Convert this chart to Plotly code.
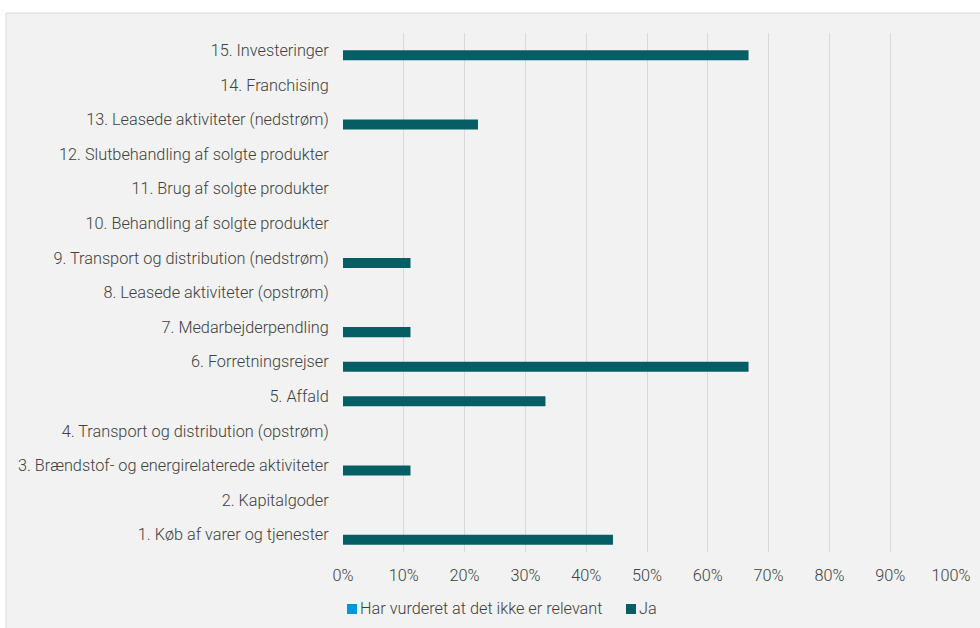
import plotly.graph_objects as go

# Scope 3 categories, listed bottom-to-top
categories = [
    "1. Køb af varer og tjenester",
    "2. Kapitalgoder",
    "3. Brændstof- og energirelaterede aktiviteter",
    "4. Transport og distribution (opstrøm)",
    "5. Affald",
    "6. Forretningsrejser",
    "7. Medarbejderpendling",
    "8. Leasede aktiviteter (opstrøm)",
    "9. Transport og distribution (nedstrøm)",
    "10. Behandling af solgte produkter",
    "11. Brug af solgte produkter",
    "12. Slutbehandling af solgte produkter",
    "13. Leasede aktiviteter (nedstrøm)",
    "14. Franchising",
    "15. Investeringer",
]

# Share of respondents per answer
ja = [0.444, 0.0, 0.111, 0.0, 0.333, 0.667, 0.111, 0.0, 0.111, 0.0, 0.0, 0.0, 0.222, 0.0, 0.667]
ikke_relevant = [0.0] * 15

series_names = ["Har vurderet at det ikke er relevant", "Ja"]
series_colors = ["#0096DC", "#045E64"]

tick_vals = [i / 10 for i in range(11)]
tick_text = [f"{i * 10}%" for i in range(11)]

FONT = "Roboto"
TEXT = "#404040"
FSIZE = 16.25
WEIGHT = 300

fig = go.Figure()
# "Ja" goes first so it sits in the lower half of each category slot
fig.add_trace(go.Bar(
    y=categories, x=ja, orientation="h", name=series_names[1],
    marker=dict(color=series_colors[1], line=dict(width=0)),
))
fig.add_trace(go.Bar(
    y=categories, x=ikke_relevant, orientation="h", name=series_names[0],
    marker=dict(color=series_colors[0], line=dict(width=0)),
))

# paper-coordinate helpers
L, R, T, B = 343, 29, 33, 76
W, H = 980, 628
pw, ph = W - L - R, H - T - B
px = lambda x: (x - L) / pw
py = lambda y: (H - B - y) / ph

shapes = [dict(
    type="rect", xref="paper", yref="paper",
    x0=px(6), x1=px(1000), y0=py(640), y1=py(13),
    fillcolor="#F2F2F2", line=dict(color="#D9D9D9", width=1),
    layer="below",
)]
annotations = []

# legend row: small square key followed by the series name
legend_x = [347, 626]
for name, color, x0 in zip(series_names, series_colors, legend_x):
    shapes.append(dict(
        type="rect", xref="paper", yref="paper",
        x0=px(x0), x1=px(x0 + 10), y0=py(614), y1=py(604),
        fillcolor=color, line=dict(width=0),
    ))
    annotations.append(dict(
        xref="paper", yref="paper", x=px(x0 + 11), y=py(609),
        xanchor="left", yanchor="middle", showarrow=False,
        text=name, font=dict(family=FONT, size=FSIZE, color=TEXT, weight=WEIGHT),
    ))

fig.update_layout(
    width=W, height=H,
    margin=dict(l=L, r=R, t=T, b=B, pad=0, autoexpand=False),
    paper_bgcolor="white",
    plot_bgcolor="rgba(0,0,0,0)",
    barmode="group",
    bargap=0.42,
    bargroupgap=0,
    font=dict(family=FONT, size=FSIZE, color=TEXT, weight=WEIGHT),
    showlegend=False,
    xaxis=dict(
        range=[0, 1], tickvals=tick_vals, ticktext=tick_text,
        showgrid=True, gridcolor="#D9D9D9", gridwidth=1,
        zeroline=False, showline=False,
        ticks="outside", ticklen=8, tickcolor="rgba(0,0,0,0)",
        tickfont=dict(family=FONT, size=FSIZE, color=TEXT, weight=WEIGHT),
        fixedrange=True, automargin=False,
    ),
    yaxis=dict(
        categoryorder="array", categoryarray=categories,
        range=[-0.5, 14.5],
        showgrid=False, zeroline=False, showline=False,
        ticks="outside", ticklen=10, tickcolor="rgba(0,0,0,0)",
        tickfont=dict(family=FONT, size=FSIZE, color=TEXT, weight=WEIGHT),
        fixedrange=True, automargin=False,
    ),
    shapes=shapes,
    annotations=annotations,
)

fig.write_html("out.html")
